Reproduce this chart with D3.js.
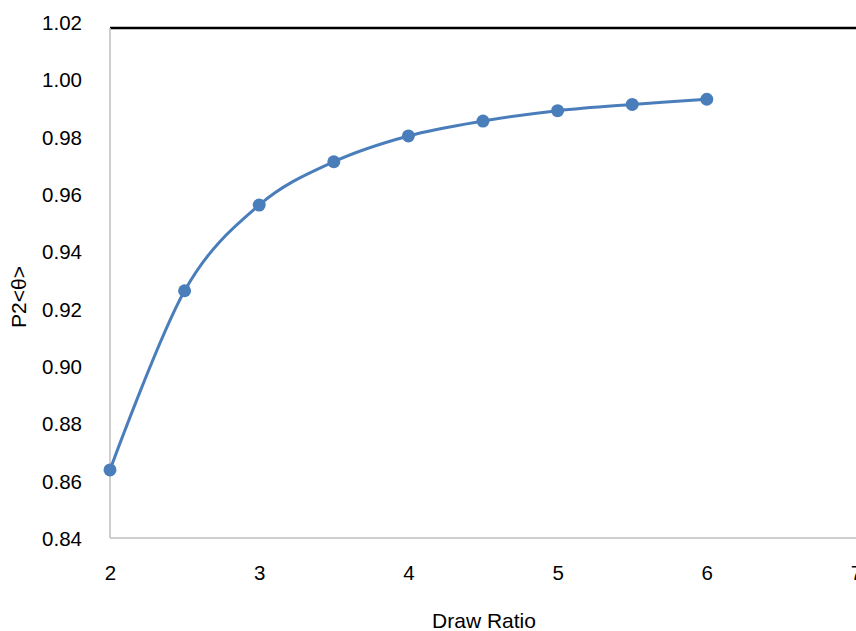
<!DOCTYPE html>
<html><head><meta charset="utf-8">
<script src="https://cdn.jsdelivr.net/npm/d3@7"></script>
<style>body{margin:0;background:#fff;} text{font-family:"Liberation Sans",Arial,sans-serif;}</style>
</head><body>
<svg id="c" width="856" height="631"></svg>
<script>
const drawRatio = [2, 2.5, 3, 3.5, 4, 4.5, 5, 5.5, 6];
const p2Values = [0.8641, 0.9266, 0.9565, 0.9716, 0.9806, 0.9858, 0.9894, 0.9916, 0.9934];
const xTicks = [2, 3, 4, 5, 6, 7];
const yTicks = [0.84, 0.86, 0.88, 0.90, 0.92, 0.94, 0.96, 0.98, 1.00, 1.02];
const xTitle = "Draw Ratio";
const yTitle = "P2<θ>";

const svg = d3.select("#c");
const x = d3.scaleLinear().domain([2, 7]).range([110, 856]);
const y = d3.scaleLinear().domain([0.84, 1.02]).range([539, 23]);
const color = "#4a7ebb";
const fam = '"Liberation Sans",Arial,sans-serif';

// frame
svg.append("line").attr("x1", x(2)).attr("x2", 856).attr("y1", y(1.02) + 5).attr("y2", y(1.02) + 5)
  .attr("stroke", "#000").attr("stroke-width", 2.5);
svg.append("line").attr("x1", x(2)).attr("x2", x(2)).attr("y1", y(1.02) + 5).attr("y2", y(0.84) - 1)
  .attr("stroke", "#bfbfbf").attr("stroke-width", 1.5);
svg.append("line").attr("x1", x(2)).attr("x2", 856).attr("y1", y(0.84) - 1).attr("y2", y(0.84) - 1)
  .attr("stroke", "#bfbfbf").attr("stroke-width", 1.5);

// y tick labels
const yAxis = d3.axisLeft(y).tickValues(yTicks).tickFormat(d3.format(".2f")).tickSize(0).tickPadding(28);
const gy = svg.append("g").attr("transform", `translate(${x(2)},0)`).call(yAxis);
gy.select(".domain").remove();
gy.attr("font-size", null).attr("font-family", null);
gy.selectAll("text").attr("font-size", 20.5).attr("fill", "#000").style("font-family", fam);

// x tick labels
const xAxis = d3.axisBottom(x).tickValues(xTicks).tickFormat(d3.format("d")).tickSize(0).tickPadding(26);
const gx = svg.append("g").attr("transform", `translate(0,${y(0.84)})`).call(xAxis);
gx.select(".domain").remove();
gx.attr("font-size", null).attr("font-family", null);
gx.selectAll("text").attr("font-size", 20.5).attr("fill", "#000").style("font-family", fam);

// titles
svg.append("text").attr("x", 484).attr("y", 628).attr("text-anchor", "middle")
  .attr("font-size", 21).attr("fill", "#000").text(xTitle);
svg.append("text").attr("transform", "translate(26,297) rotate(-90)").attr("text-anchor", "middle")
  .attr("font-size", 21).attr("fill", "#000").text(yTitle);

// line
const data = drawRatio.map((d, i) => [d, p2Values[i]]);
const line = d3.line().x(d => x(d[0])).y(d => y(d[1])).curve(d3.curveCardinal.tension(0));
svg.append("path").datum(data).attr("d", line).attr("fill", "none")
  .attr("stroke", color).attr("stroke-width", 3);
svg.selectAll("circle.pt").data(data).enter().append("circle").attr("class", "pt")
  .attr("cx", d => x(d[0])).attr("cy", d => y(d[1])).attr("r", 6.5).attr("fill", color);
</script>
</body></html>
